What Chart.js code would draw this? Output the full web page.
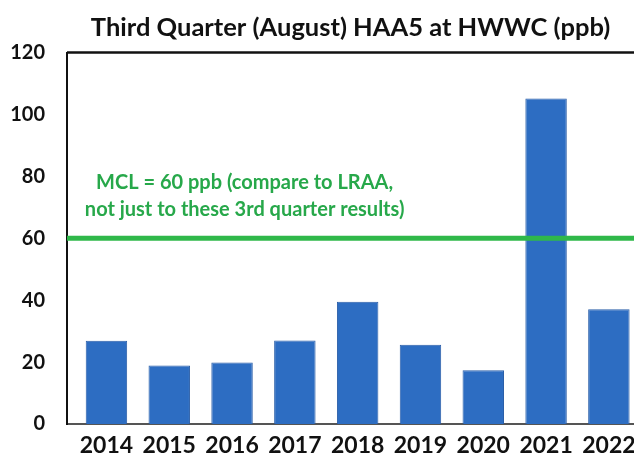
<!DOCTYPE html>
<html>
<head>
<meta charset="utf-8">
<script src="https://cdn.jsdelivr.net/npm/chart.js@4.4.1/dist/chart.umd.min.js"></script>
<style>
  html, body { margin: 0; padding: 0; background: #fff; overflow: hidden; }
  #wrap { width: 634px; height: 458px; position: relative; }
</style>
</head>
<body>
<div id="wrap"><canvas id="c" width="634" height="458"></canvas></div>
<script>
const years = ['2014', '2015', '2016', '2017', '2018', '2019', '2020', '2021', '2022'];
const haa5 = [26.9, 18.9, 19.9, 27.0, 39.5, 25.6, 17.4, 105.2, 37.1];
const mclValue = 60;
const yTickValues = [0, 20, 40, 60, 80, 100, 120];
const titleText = 'Third Quarter (August) HAA5 at HWWC (ppb)';
const mclNote = ['MCL = 60 ppb (compare to LRAA,', 'not just to these 3rd quarter results)'];

const FONT = 'Lato, "Open Sans", "Liberation Sans", sans-serif';

const framePlugin = {
  id: 'frame',
  afterDatasetsDraw(chart) {
    const { ctx, chartArea: a, scales } = chart;
    const y60 = scales.y.getPixelForValue(mclValue);
    ctx.save();
    ctx.strokeStyle = '#111';
    ctx.lineWidth = 2.5;
    ctx.beginPath();
    ctx.moveTo(a.left, a.top);
    ctx.lineTo(a.right + 2, a.top);
    ctx.stroke();
    ctx.strokeStyle = '#2fb84a';
    ctx.lineWidth = 5;
    ctx.beginPath();
    ctx.moveTo(a.left, y60);
    ctx.lineTo(a.right + 2, y60);
    ctx.stroke();
    ctx.fillStyle = '#27a84a';
    ctx.font = 'bold 20px ' + FONT;
    ctx.textAlign = 'center';
    ctx.textBaseline = 'middle';
    const cx = scales.x.getPixelForValue(2.2);
    ctx.fillText(mclNote[0], cx, scales.y.getPixelForValue(77.9));
    ctx.fillText(mclNote[1], cx, scales.y.getPixelForValue(69.2));
    ctx.restore();
  }
};

new Chart(document.getElementById('c'), {
  type: 'bar',
  data: {
    datasets: [{
      data: haa5.map((v, i) => ({ x: i, y: v })),
      backgroundColor: '#2d6dc2',
      borderColor: '#2a5ea8',
      borderWidth: 1,
      barPercentage: 0.66,
      categoryPercentage: 1.0
    }]
  },
  options: {
    responsive: false,
    animation: false,
    devicePixelRatio: 1,
    layout: { padding: { left: 0, right: 0, top: 0, bottom: 0 } },
    plugins: {
      legend: { display: false },
      tooltip: { enabled: false },
      title: {
        display: true,
        text: titleText,
        fullSize: false,
        color: '#111',
        font: { family: FONT, size: 25.5, weight: 'bold' },
        padding: { top: 12, bottom: 10 }
      }
    },
    scales: {
      x: {
        type: 'linear',
        min: -0.628,
        max: 8.40,
        offset: false,
        grid: { display: false, drawTicks: false },
        border: { display: true, color: '#555', width: 2 },
        afterBuildTicks(scale) {
          scale.ticks = years.map((_, i) => ({ value: i }));
        },
        afterFit(scale) {
          scale.height = 31;
          scale.paddingLeft = 0;
          scale.paddingRight = 0;
        },
        ticks: {
          autoSkip: false,
          maxRotation: 0,
          padding: 8,
          color: '#111',
          font: { family: FONT, size: 23, weight: 'bold' },
          callback: (v) => years[v] !== undefined ? years[v] : ''
        }
      },
      y: {
        min: 0,
        max: 120,
        grid: { display: false, drawTicks: false },
        border: { display: true, color: '#111', width: 2 },
        afterBuildTicks(scale) {
          scale.ticks = yTickValues.map(v => ({ value: v }));
        },
        afterFit(scale) { scale.width = 67; },
        ticks: {
          padding: 22,
          color: '#111',
          font: { family: FONT, size: 20, weight: 'bold' }
        }
      }
    }
  },
  plugins: [framePlugin]
});
</script>
</body>
</html>
